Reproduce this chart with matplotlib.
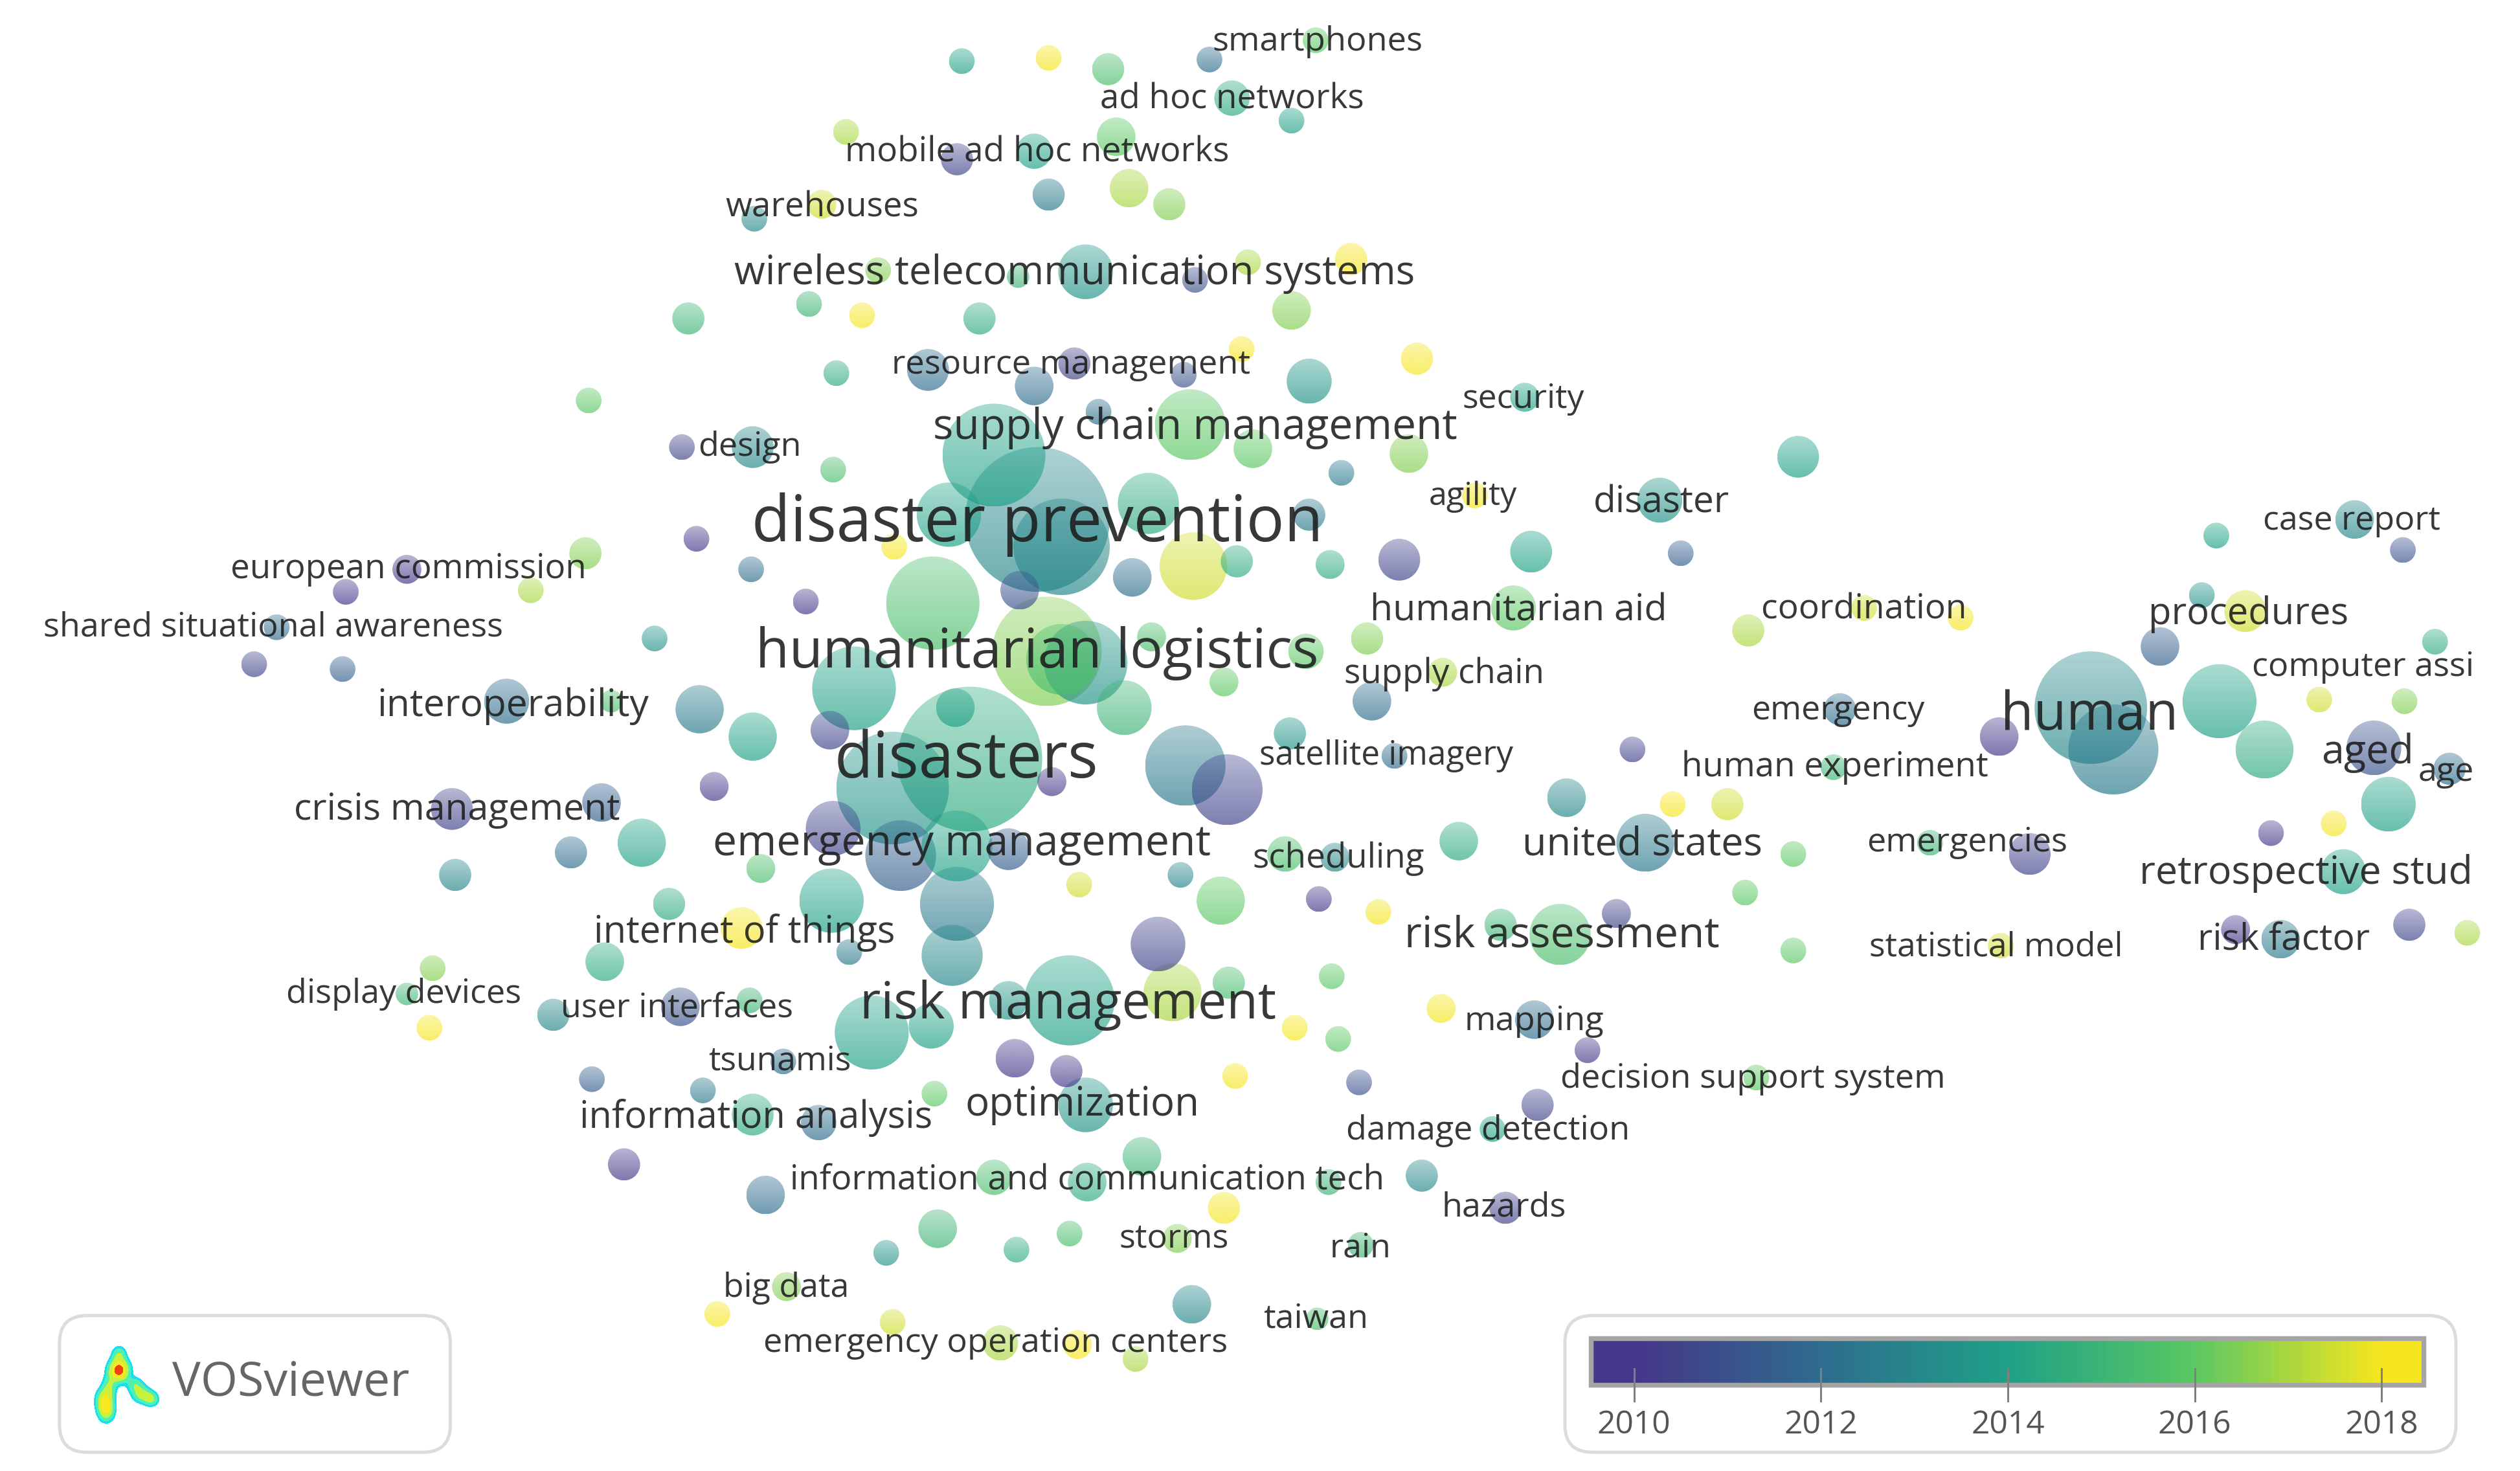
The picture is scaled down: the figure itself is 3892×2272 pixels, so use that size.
import numpy as np
import matplotlib
matplotlib.use('Agg')
import matplotlib.pyplot as plt
from matplotlib.colors import LinearSegmentedColormap, Normalize
from matplotlib.patches import Circle, FancyBboxPatch, Rectangle

# bubbles (x, y, radius in map units, average publication year)
bubble_x = [598, 652, 689, 752, 818, 766, 803, 694, 526, 643, 595, 652, 702, 727, 511, 469, 675, 546, 633, 743,
            776, 840, 803, 503, 428, 536, 609, 520, 577, 668, 736, 772, 881, 814, 643, 683, 366, 424, 468, 518,
            948, 740, 779, 876, 834, 618, 645, 660, 590, 714, 814, 742, 769, 827, 870, 952, 1032, 1118, 1045, 917,
            433, 364, 253, 215, 330, 467, 556, 704, 634, 580, 501, 407, 172, 158, 213, 651, 675, 660, 716, 812,
            850, 941, 1087, 1159, 1219, 761, 897, 853, 531, 699, 315, 435, 380, 468, 594, 516, 603, 555, 737, 763,
            802, 867, 654, 444, 1015, 1144, 1140, 1243, 1040, 1074, 974, 281, 374, 518, 399, 355, 283, 473, 560, 595,
            627, 671, 734, 799, 830, 907, 1023, 1115, 1200, 1262, 1451, 1412, 1457, 1485, 1476, 1523, 1408, 1380, 1300, 1314,
            1343, 1396, 1369, 1378, 1464, 1494, 1514, 1495, 1442, 517, 595, 759, 720, 820, 857, 1085, 1005, 933, 970, 416,
            461, 528, 592, 376, 269, 253, 344, 423, 267, 466, 1115, 1244, 1418, 1498, 1534, 729, 764, 828, 896, 665,
            627, 542, 579, 805, 832, 954, 987, 368, 487, 437, 631, 663, 768, 845, 581, 956, 1092, 675, 468, 509,
            928, 388, 710, 618, 676, 826, 884, 476, 761, 936, 583, 551, 632, 665, 732, 846, 489, 446, 555, 741,
            819, 622, 670, 706, 1390]
bubble_y = [38, 36, 43, 37, 25, 61, 75, 85, 82, 94, 99, 121, 117, 127, 127, 136, 169, 168, 172, 174,
            163, 161, 193, 189, 198, 196, 198, 232, 230, 226, 233, 217, 223, 237, 240, 256, 249, 278, 278, 292,
            247, 264, 279, 282, 294, 283, 323, 340, 320, 313, 320, 352, 349, 351, 348, 343, 311, 284, 344, 308,
            335, 344, 354, 368, 367, 354, 340, 359, 367, 375, 374, 397, 390, 413, 416, 405, 412, 410, 396, 405,
            397, 378, 392, 378, 384, 424, 418, 436, 428, 440, 436, 441, 436, 458, 440, 454, 472, 490, 476, 491,
            456, 470, 486, 489, 466, 441, 477, 458, 500, 500, 496, 503, 499, 515, 524, 530, 544, 540, 532, 526,
            528, 550, 544, 531, 533, 523, 524, 531, 524, 531, 512, 518, 542, 500, 465, 478, 466, 436, 440, 466,
            402, 380, 370, 333, 323, 342, 399, 436, 435, 560, 562, 560, 587, 559, 567, 555, 568, 575, 581, 562,
            577, 592, 594, 598, 602, 618, 631, 626, 639, 622, 591, 588, 584, 575, 580, 617, 611, 607, 627, 622,
            622, 642, 638, 639, 646, 634, 653, 671, 660, 678, 658, 666, 669, 673, 680, 687, 670, 687, 693, 698,
            702, 724, 719, 732, 735, 735, 731, 743, 751, 751, 764, 779, 777, 767, 770, 774, 800, 817, 822, 811,
            820, 835, 836, 845, 578]
bubble_r = [8, 8, 10, 8, 8, 11, 8, 12, 8, 11, 10, 10, 12, 10, 9, 8, 17, 8, 7, 8,
            8, 10, 12, 8, 10, 8, 10, 8, 13, 10, 8, 8, 10, 14, 12, 8, 8, 8, 13, 8,
            9, 22, 12, 12, 8, 32, 45, 30, 20, 19, 10, 21, 10, 9, 13, 13, 14, 13, 8, 8,
            8, 10, 9, 8, 8, 8, 8, 12, 12, 29, 8, 8, 8, 8, 8, 34, 26, 22, 9, 11,
            10, 14, 10, 8, 8, 9, 9, 12, 26, 17, 14, 15, 7, 15, 12, 12, 45, 35, 25, 22,
            10, 8, 9, 9, 8, 10, 8, 12, 8, 10, 12, 13, 12, 17, 15, 10, 10, 9, 22, 22,
            13, 8, 8, 11, 9, 12, 18, 8, 8, 13, 8, 8, 14, 17, 17, 10, 18, 23, 35, 28,
            12, 13, 8, 8, 12, 8, 8, 8, 8, 20, 23, 15, 17, 8, 8, 8, 9, 10, 19, 10,
            13, 8, 19, 12, 8, 7, 10, 12, 8, 8, 8, 8, 12, 10, 8, 18, 10, 8, 9, 28,
            12, 23, 14, 8, 8, 12, 8, 8, 8, 8, 12, 10, 8, 8, 8, 10, 8, 17, 13, 11,
            8, 10, 12, 11, 12, 8, 10, 12, 10, 10, 12, 8, 8, 8, 9, 8, 9, 8, 8, 12,
            7, 11, 9, 8, 9]
bubble_year = [2014, 2018, 2015.5, 2012, 2016, 2014.5, 2014, 2016, 2017, 2014, 2010.5, 2012.5, 2017, 2016.5, 2017.5, 2013, 2013.5, 2016.5, 2015, 2011,
               2017, 2018, 2016.5, 2015, 2015, 2018, 2014.5, 2014.5, 2012, 2010.5, 2011, 2018, 2018, 2013.5, 2012, 2012, 2016, 2010.5, 2013, 2015.5,
               2014, 2016, 2016, 2016.5, 2012.5, 2014, 2013, 2013, 2014, 2014.5, 2012.5, 2017.5, 2014.5, 2014.5, 2010.5, 2014, 2013.5, 2014, 2011.5, 2018,
               2010, 2016.5, 2010, 2010, 2017, 2012, 2018, 2012, 2011, 2015.5, 2010, 2013.5, 2012, 2010.5, 2011.5, 2016.5, 2013.5, 2015.5, 2015.5, 2016,
               2016.5, 2016, 2017, 2017.5, 2018, 2016, 2017, 2012, 2014, 2015, 2012, 2012.5, 2015.5, 2014, 2014, 2010.5, 2014.5, 2013.5, 2012.5, 2010.5,
               2013.5, 2012, 2010, 2010, 2010.5, 2012, 2015, 2010, 2018, 2017.5, 2013, 2010.5, 2011.5, 2010.5, 2014, 2012, 2013, 2015.5, 2011.5, 2014,
               2011.5, 2017.5, 2013, 2015.5, 2013, 2014.5, 2012.5, 2016, 2015, 2010.5, 2018, 2010, 2014, 2014, 2011, 2012, 2014.5, 2014, 2013, 2012.5,
               2011.5, 2017.5, 2013.5, 2014, 2013, 2011, 2014.5, 2016.5, 2017.5, 2014, 2012.5, 2016, 2010.5, 2010, 2018, 2016, 2010.5, 2015, 2015.5, 2014.5,
               2018, 2012.5, 2013, 2014.5, 2016.5, 2015, 2013, 2011, 2018, 2015, 2016, 2017.5, 2012.5, 2010.5, 2017, 2017, 2015.5, 2016, 2018, 2014,
               2013.5, 2014, 2014, 2018, 2016, 2012, 2010, 2011.5, 2012, 2012.5, 2010, 2010, 2018, 2011, 2016, 2010.5, 2016, 2013.5, 2014.5, 2012,
               2014, 2010, 2015, 2015.5, 2014.5, 2015, 2013, 2012, 2018, 2010.5, 2015, 2013.5, 2014.5, 2015.5, 2016.5, 2015, 2016.5, 2018, 2017.5, 2013,
               2015.5, 2017, 2018, 2017, 2010]

# keyword labels
label_text = ['smartphones', 'ad hoc networks', 'mobile ad hoc networks', 'warehouses',
              'wireless telecommunication systems', 'resource management', 'security',
              'supply chain management', 'design', 'disaster prevention', 'agility', 'disaster',
              'case report', 'european commission', 'coordination', 'humanitarian aid',
              'shared situational awareness', 'procedures', 'humanitarian logistics',
              'supply chain', 'interoperability', 'emergency', 'human', 'disasters',
              'satellite imagery', 'aged', 'human experiment', 'age', 'crisis management',
              'emergency management', 'scheduling', 'united states', 'emergencies',
              'internet of things', 'risk assessment', 'statistical model', 'risk factor',
              'display devices', 'user interfaces', 'risk management', 'mapping', 'tsunamis',
              'decision support system', 'information analysis', 'optimization',
              'damage detection', 'information and communication tech', 'hazards', 'storms',
              'rain', 'big data', 'taiwan', 'emergency operation centers']
label_x = [819, 766, 645, 511, 668, 666, 947, 743, 466, 645, 916, 1033, 1462, 254, 1159, 944, 170, 1398, 645,
           898, 319, 1143, 1299, 601, 862, 1472, 1141, 1521, 284, 598, 832, 1021, 1223, 463, 971, 1241, 1420,
           251, 421, 664, 954, 485, 1090, 470, 673, 925, 676, 935, 730, 846, 489, 818, 619]
label_y = [26, 62, 95, 129, 170, 227, 248, 266, 278, 326, 309, 313, 324, 354, 379, 380, 390, 382, 406,
           419, 439, 442, 445, 473, 470, 468, 477, 480, 504, 525, 534, 525, 524, 580, 582, 589, 585,
           618, 627, 625, 635, 660, 671, 695, 687, 703, 734, 751, 770, 776, 801, 820, 835]
label_size = [21.1, 21.3, 21.4, 21.3, 24.8, 21.1, 20.8, 26.5, 21, 39.3, 20.3, 22.9, 20.9, 21.3, 21.5, 23.1, 21, 23.3, 34.1,
              21.3, 23.6, 20.9, 33.2, 39.3, 20.7, 25.3, 21.3, 21, 23, 26.7, 21.3, 24.7, 21, 23.3, 26.5, 20.8, 23,
              21, 20.9, 31.8, 21.1, 20.8, 21.1, 23.2, 24.9, 21, 21.3, 21, 21, 20.9, 20.9, 21, 21.1]

# labels cut by the right edge of the map, these start at their left end
edge_text = ['computer assi', 'retrospective stud']
edge_x = [1400, 1330]
edge_y = [415, 543]
edge_size = [21, 24.5]

# colour scale
scale_ticks = [2010, 2012, 2014, 2016, 2018]
scale_stops = [(0.0, '#46378a'), (0.25, '#2f6d8e'), (0.5, '#1fa187'), (0.75, '#5ac864'), (1.0, '#f5e61f')]

# hot spots of the logo
logo_x = [74, 74, 68, 65, 66, 84, 88, 94]
logo_y = [842, 852, 862, 870, 877, 861, 867, 870]
logo_sx = [3, 4.2, 3, 3.6, 3.4, 3.4, 4, 3.2]
logo_sy = [3.6, 4.6, 4.6, 4.6, 4.6, 3.2, 3.4, 3]
logo_w = [0.35, 1.05, 0.35, 0.55, 0.62, 0.35, 0.48, 0.42]

DPI = 250
UNIT = 2.484  # output pixels per map unit
PX = UNIT / DPI * 72
TEXT_FONT = ['Open Sans', 'DejaVu Sans']

fig = plt.figure(figsize=(3892 / DPI, 2272 / DPI), dpi=DPI)
ax = fig.add_axes([0, 0, 1, 1])
ax.set_xlim(0, 3892 / UNIT)
ax.set_ylim(2272 / UNIT, 0)
ax.set_autoscale_on(False)
ax.axis('off')

cmap = LinearSegmentedColormap.from_list('vos', scale_stops)
norm = Normalize(2010, 2018)

# bubbles fade from light at the top to darker at the bottom
fade = np.linspace(0.38, 0.68, 32)
for i in np.argsort(bubble_r)[::-1]:
    x, y, r = bubble_x[i], bubble_y[i], bubble_r[i]
    rgba = np.ones((32, 1, 4))
    rgba[:, :, :3] = cmap(norm(bubble_year[i]))[:3]
    rgba[:, 0, 3] = fade
    im = ax.imshow(rgba, extent=(x - r, x + r, y + r, y - r), origin='upper', aspect='auto',
                   interpolation='bilinear', zorder=2)
    im.set_clip_path(Circle((x, y), r, transform=ax.transData))

for t, x, y, s in zip(label_text, label_x, label_y, label_size):
    ax.text(x, y, t, ha='center', va='center', fontsize=s * PX, family=TEXT_FONT,
            color='#1c1c1c', alpha=0.88, zorder=5)
for t, x, y, s in zip(edge_text, edge_x, edge_y, edge_size):
    ax.text(x, y, t, ha='left', va='center', fontsize=s * PX, family=TEXT_FONT,
            color='#1c1c1c', alpha=0.88, zorder=5)

# logo box
box_style = dict(boxstyle='round,pad=0,rounding_size=17', facecolor='white',
                 edgecolor='#dcdcdc', linewidth=2 * PX, zorder=6)
ax.add_patch(FancyBboxPatch((37, 818), 243, 85, **box_style))
gx, gy = np.meshgrid(np.linspace(50, 110, 300), np.linspace(830, 892, 300))
heat = np.zeros_like(gx)
for x0, y0, sx, sy, w in zip(logo_x, logo_y, logo_sx, logo_sy, logo_w):
    heat += w * np.exp(-((gx - x0) ** 2 / (2 * sx ** 2) + (gy - y0) ** 2 / (2 * sy ** 2)))
ax.contourf(gx, gy, heat, levels=[0.14, 0.24, 0.42, 0.66, 0.9, 1.15, 5],
            colors=['#19e0f0', '#50f0b0', '#c8f040', '#f8e820', '#f04010', '#a80000'], zorder=7)
ax.text(107, 860, 'VOSviewer', ha='left', va='center', fontsize=29.6 * PX, family=TEXT_FONT,
        color='#666666', zorder=7)

# colour bar box
ax.add_patch(FancyBboxPatch((973, 818), 554, 85, **box_style))
bar_years = np.linspace(2009.55, 2018.45, 256)[None, :]
ax.imshow(bar_years, cmap=cmap, norm=norm, extent=(989, 1507, 861, 832), aspect='auto', zorder=7)
ax.add_patch(Rectangle((989, 832), 518, 29, facecolor='none', edgecolor='#a5a5a5',
                       linewidth=3 * PX, zorder=8))
for yr in scale_ticks:
    xt = 1016 + (yr - 2010) * 58.1
    ax.plot([xt, xt], [851, 871], color='#808080', lw=1.2 * PX, zorder=9)
    ax.text(xt, 886, str(yr), ha='center', va='center', fontsize=20 * PX, family=TEXT_FONT,
            color='#555555', zorder=9)

fig.savefig('out.png', dpi=DPI, facecolor='white')
